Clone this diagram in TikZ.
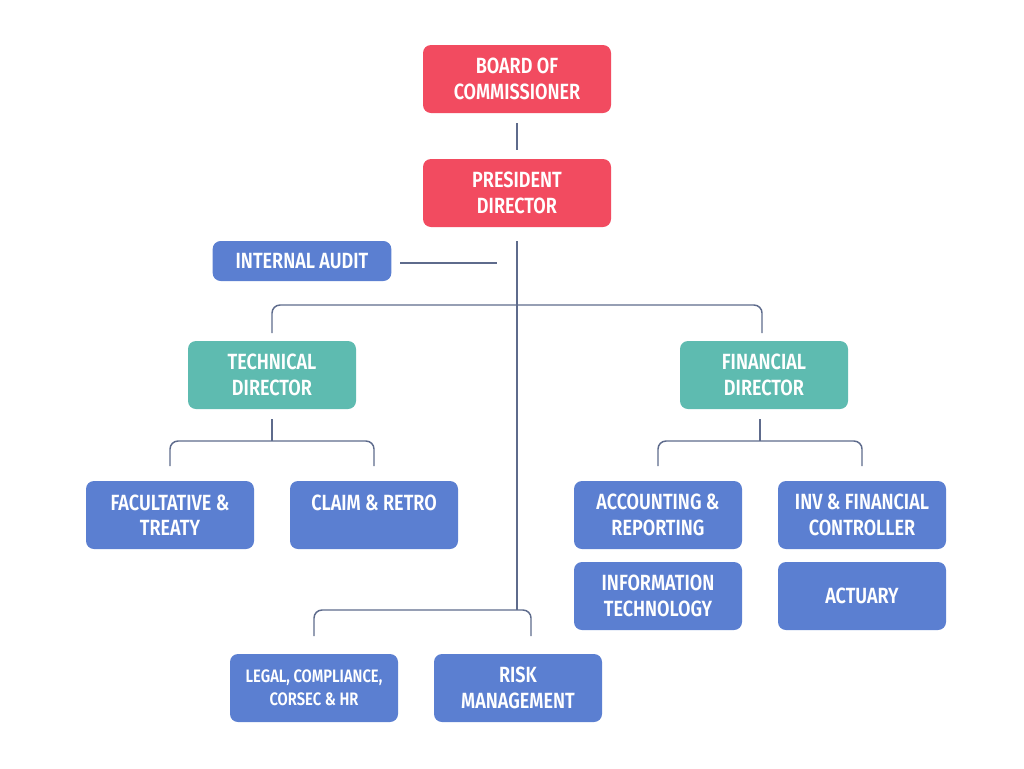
\documentclass[tikz,border=0pt]{standalone}
\usepackage{fontspec}
\setmainfont{Fira Sans}[UprightFont=* SemiBold, FakeStretch=0.82]
\usetikzlibrary{calc}
\definecolor{cred}{HTML}{F24B60}
\definecolor{cblue}{HTML}{5B7FD1}
\definecolor{cteal}{HTML}{5EBBB0}
\definecolor{cline}{HTML}{5E6B8C}
\begin{document}
\begin{tikzpicture}[x=0.75pt,y=-0.75pt,
 box/.style={rounded corners=6pt,minimum width=126pt,minimum height=51pt,text=white,align=center,font=\fontsize{16.5}{19}\selectfont,inner sep=1pt},
 red/.style={box,fill=cred,minimum width=141pt},
 blue/.style={box,fill=cblue},
 teal/.style={box,fill=cteal},
 ln/.style={draw=cline,line width=1.1pt,rounded corners=6pt}]
\useasboundingbox (0,0) rectangle (1024,768);
\node[red] (board) at (517,79) {BOARD OF\\COMMISSIONER};
\node[red] (pres) at (517,193) {PRESIDENT\\DIRECTOR};
\node[blue,minimum width=134pt,minimum height=30pt] (audit) at (302,261) {INTERNAL AUDIT};
\node[teal] (tech) at (272,375) {TECHNICAL\\DIRECTOR};
\node[teal] (fin) at (764,375) {FINANCIAL\\DIRECTOR};
\node[blue] (fac) at (170,515) {FACULTATIVE \&\\TREATY};
\node[blue] (claim) at (374,515) {CLAIM \& RETRO\\[-6pt]\strut};
\node[blue] (acc) at (658,515) {ACCOUNTING \&\\REPORTING};
\node[blue] (inv) at (862,515) {INV \& FINANCIAL\\CONTROLLER};
\node[blue] (it) at (658,596) {INFORMATION\\TECHNOLOGY};
\node[blue] (act) at (862,596) {ACTUARY};
\node[blue,font=\fontsize{13.5}{17}\selectfont] (legal) at (314,688) {LEGAL, COMPLIANCE,\\CORSEC \& HR};
\node[blue] (risk) at (518,688) {RISK\\MANAGEMENT};
\coordinate (j1) at (517,610);
\draw[ln] (517,123) -- (517,150);
\draw[ln] (517,241) -- (j1);
\draw[ln] (400,263) -- (497,263);
\draw[ln] (272,333) -- (272,305) -- (762,305) -- (762,333);
\draw[ln] (272,419) -- (272,441);
\draw[ln] (170,466) -- (170,441) -- (374,441) -- (374,466);
\draw[ln] (760,419) -- (760,441);
\draw[ln] (658,466) -- (658,441) -- (862,441) -- (862,466);
\draw[ln] (314,636) -- (314,610) -- (531,610) -- (531,636);
\end{tikzpicture}
\end{document}
